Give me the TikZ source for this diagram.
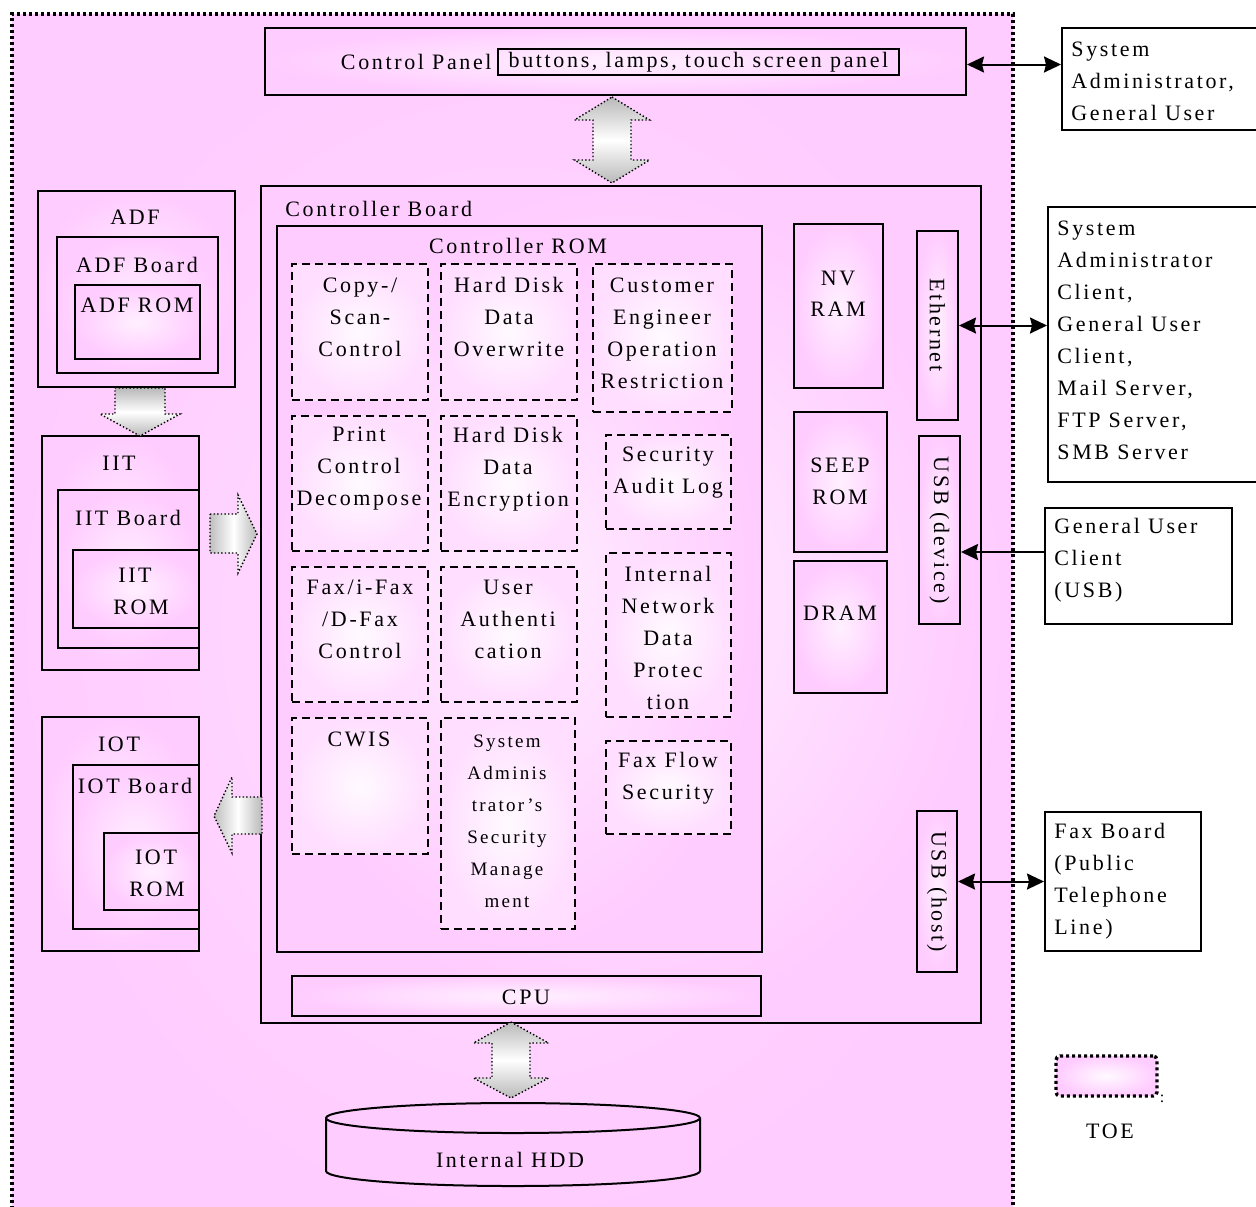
\documentclass[tikz,border=0pt]{standalone}
\usepackage{fontspec}
\setmainfont{Liberation Serif}[LetterSpace=12]
\usetikzlibrary{fit,arrows.meta,calc}
\definecolor{pinkO}{RGB}{255,204,255}
\definecolor{pinkI}{RGB}{255,240,255}
\definecolor{pinkM}{RGB}{255,222,255}
\definecolor{pinkW}{RGB}{255,250,255}
\begin{document}
\begin{tikzpicture}[x=0.5pt,y=-0.5pt,
  txt/.style={font=\fontsize{11pt}{16pt}\selectfont, align=center, inner sep=0pt},
  ltxt/.style={font=\fontsize{11pt}{16pt}\selectfont, align=left, inner sep=0pt, anchor=west},
  stxt/.style={font=\fontsize{9.5pt}{16pt}\selectfont, align=center, inner sep=0pt},
  pbox/.style={draw, line width=1pt, inner sep=0pt, inner color=pinkI, outer color=pinkO},
  dbox/.style={draw, line width=1pt, inner sep=0pt, inner color=pinkW, outer color=pinkM, dash pattern=on 4pt off 2.5pt},
  wbox/.style={draw, line width=1pt, fill=white, inner sep=0pt},
  toebox/.style={draw, line width=1.7pt, dash pattern=on 1.5pt off 1.5pt, inner sep=0pt},
  link/.style={line width=1pt, {Stealth[length=8.5pt,width=8pt,inset=1pt]}-{Stealth[length=8.5pt,width=8pt,inset=1pt]}},
  linkone/.style={line width=1pt, -{Stealth[length=8.5pt,width=8pt,inset=1pt]}},
  blockv/.style={draw, line width=0.7pt, dash pattern=on 0.7pt off 1.1pt, top color=gray!55, bottom color=gray!55, middle color=white},
  blockh/.style={draw, line width=0.7pt, dash pattern=on 0.7pt off 1.1pt, left color=gray!50, right color=gray!55, middle color=white}
]
\useasboundingbox (0,0) rectangle (1256,1206);

% TOE area
\node[toebox, inner color=pinkM, outer color=pinkO, fit={(12,14)(1013,1230)}] (toe) {};

% Control panel
\node[pbox, fit={(265,28)(966,95)}] (cp) {};
\node[txt, anchor=east] (cplabel) at (492,62) {Control Panel};
\node[txt, draw, line width=0.8pt, minimum width=200.5pt, minimum height=13pt] (cpbtn) at (698.5,62) {buttons, lamps, touch screen panel};

% Controller board
\node[pbox, fit={(261,186)(981,1023)}] (cb) {};
\node[txt, anchor=west] (cblabel) at (285,209) {Controller Board};
\node[pbox, fit={(277,226)(762,952)}] (rom) {};
\node[txt] (romlabel) at (518,246) {Controller ROM};

% functions
\node[dbox, fit={(292,264)(428,400)}] (f1) {};
\node[txt] at (360,317) {Copy-/\\Scan-\\Control};
\node[dbox, fit={(441,264)(577,400)}] (f2) {};
\node[txt] at (509,317) {Hard Disk\\Data\\Overwrite};
\node[dbox, fit={(593,264)(732,412)}] (f3) {};
\node[txt] at (662,333) {Customer\\Engineer\\Operation\\Restriction};

\node[dbox, fit={(292,416)(428,551)}] (f4) {};
\node[txt] at (359,469) {Print\\Control\\Decompose};
\node[dbox, fit={(441,416)(577,551)}] (f5) {};
\node[txt] at (508,469) {Hard Disk\\Data\\Encryption};
\node[dbox, fit={(606,435)(731,529)}] (f6) {};
\node[txt] at (668,473) {Security\\Audit Log};

\node[dbox, fit={(292,567)(428,702)}] (f7) {};
\node[txt] at (360,619) {Fax/i-Fax\\/D-Fax\\Control};
\node[dbox, fit={(441,567)(577,702)}] (f8) {};
\node[txt] at (508,619) {User\\Authenti\\cation};
\node[dbox, fit={(606,553)(731,717)}] (f9) {};
\node[txt] at (668,638) {Internal\\Network\\Data\\Protec\\tion};

\node[dbox, fit={(292,718)(428,854)}] (f10) {};
\node[txt] at (359,739) {CWIS};
\node[dbox, fit={(441,718)(575,929)}] (f11) {};
\node[stxt] at (507,821) {System\\Adminis\\trator's\\Security\\Manage\\ment};
\node[dbox, fit={(606,741)(731,834)}] (f12) {};
\node[txt] at (668,778) {Fax Flow\\Security};

% CPU
\node[pbox, fit={(292,976)(761,1016)}] (cpu) {};
\node[txt] at (526,997) {CPU};

% memory
\node[pbox, fit={(794,224)(883,388)}] (nv) {};
\node[txt] at (838,278) {NV};
\node[txt] at (838,309) {RAM};
\node[pbox, fit={(794,412)(887,552)}] (seep) {};
\node[txt] at (840,465) {SEEP};
\node[txt] at (840,497) {ROM};
\node[pbox, fit={(794,561)(887,693)}] (dram) {};
\node[txt] at (840,613) {DRAM};

% interfaces
\node[pbox, fit={(917,231)(958,420)}] (eth) {};
\node[txt, rotate=-90] at (937.5,325) {Ethernet};
\node[pbox, fit={(919,436)(960,624)}] (usbd) {};
\node[txt, rotate=-90] at (939.5,530) {USB (device)};
\node[pbox, fit={(917,811)(957,972)}] (usbh) {};
\node[txt, rotate=-90] at (937,891.5) {USB (host)};

% left side units
\node[pbox, fit={(38,191)(235,387)}] (adf) {};
\node[txt] at (135,217) {ADF};
\node[pbox, fit={(57,237)(218,373)}] (adfb) {};
\node[txt] at (137,265) {ADF Board};
\node[pbox, fit={(75,285)(200,359)}] (adfr) {};
\node[txt] at (137,305) {ADF ROM};

\node[pbox, fit={(42,436)(199,670)}] (iit) {};
\node[txt] at (119,463) {IIT};
\node[pbox, fit={(58,490)(199,648)}] (iitb) {};
\node[txt] at (128,518) {IIT Board};
\node[pbox, fit={(73,550)(199,628)}] (iitr) {};
\node[txt] at (135,575) {IIT};
\node[txt] at (141,607) {ROM};

\node[pbox, fit={(42,717)(199,951)}] (iot) {};
\node[txt] at (119,744) {IOT};
\node[pbox, fit={(73,765)(199,929)}] (iotb) {};
\node[txt] at (135,786) {IOT Board};
\node[pbox, fit={(104,833)(199,910)}] (iotr) {};
\node[txt] at (156,857) {IOT};
\node[txt] at (157,889) {ROM};

% HDD
\draw[line width=1pt, fill=pinkO] (326,1118) arc[start angle=180,end angle=360,x radius=187,y radius=15]
  -- (700,1171) arc[start angle=0,end angle=180,x radius=187,y radius=15] -- cycle;
\draw[line width=1pt] (326,1118) arc[start angle=180,end angle=0,x radius=187,y radius=15];
\node[txt] (hdd) at (510,1160) {Internal HDD};

% external entities
\node[wbox, fit={(1062,28)(1275,130)}] (sa) {};
\node[ltxt] at (1071,81) {System\\Administrator,\\General User};
\node[wbox, fit={(1048,207)(1275,482)}] (sac) {};
\node[ltxt] at (1057,340.5) {System\\Administrator\\Client,\\General User\\Client,\\Mail Server,\\FTP Server,\\SMB Server};
\node[wbox, fit={(1045,508)(1232,624)}] (gu) {};
\node[ltxt] at (1054,560) {General User\\Client\\(USB)};
\node[wbox, fit={(1045,812)(1201,951)}] (fax) {};
\node[ltxt] at (1054,881) {Fax Board\\(Public\\Telephone\\Line)};

% connectors
\draw[link] ([yshift=-1.5pt]cp.east) -- ([yshift=-1.5pt]cp.east -| sa.west);
\draw[link] (eth.east) -- (eth.east -| sac.west);
\draw[linkone] ([yshift=7pt]gu.west) -- ([yshift=7pt]gu.west -| usbd.east);
\draw[link] (usbh.east |- fax.west) -- (fax.west);

% block arrows
\path[blockv] (612,97) -- (649.5,120) -- (631,120) -- (631,160) -- (649.5,160) -- (612,183)
  -- (574.5,160) -- (593,160) -- (593,120) -- (574.5,120) -- cycle;
\path[blockv] (511,1022) -- (548.5,1043) -- (530,1043) -- (530,1078) -- (548.5,1078) -- (511,1098)
  -- (473.5,1078) -- (492,1078) -- (492,1043) -- (473.5,1043) -- cycle;
\path[blockv] (115,388) -- (165,388) -- (165,414) -- (180,414) -- (140,436) -- (100,414) -- (115,414) -- cycle;
\path[blockh] (210,514) -- (238,514) -- (238,495) -- (257,534) -- (238,573) -- (238,553) -- (210,553) -- cycle;
\path[blockh] (262,797) -- (232,797) -- (232,777) -- (214,816) -- (232,853) -- (232,834) -- (262,834) -- cycle;

% legend
\node[toebox, rounded corners=2pt, inner color=pinkW, outer color=pinkO, fit={(1056,1056)(1157,1096)}] (leg) {};
\node[font=\fontsize{8pt}{8pt}\selectfont, inner sep=0pt] (legc) at (1162,1099) {:};
\node[txt] (legt) at (1110,1131) {TOE};
\end{tikzpicture}
\end{document}
